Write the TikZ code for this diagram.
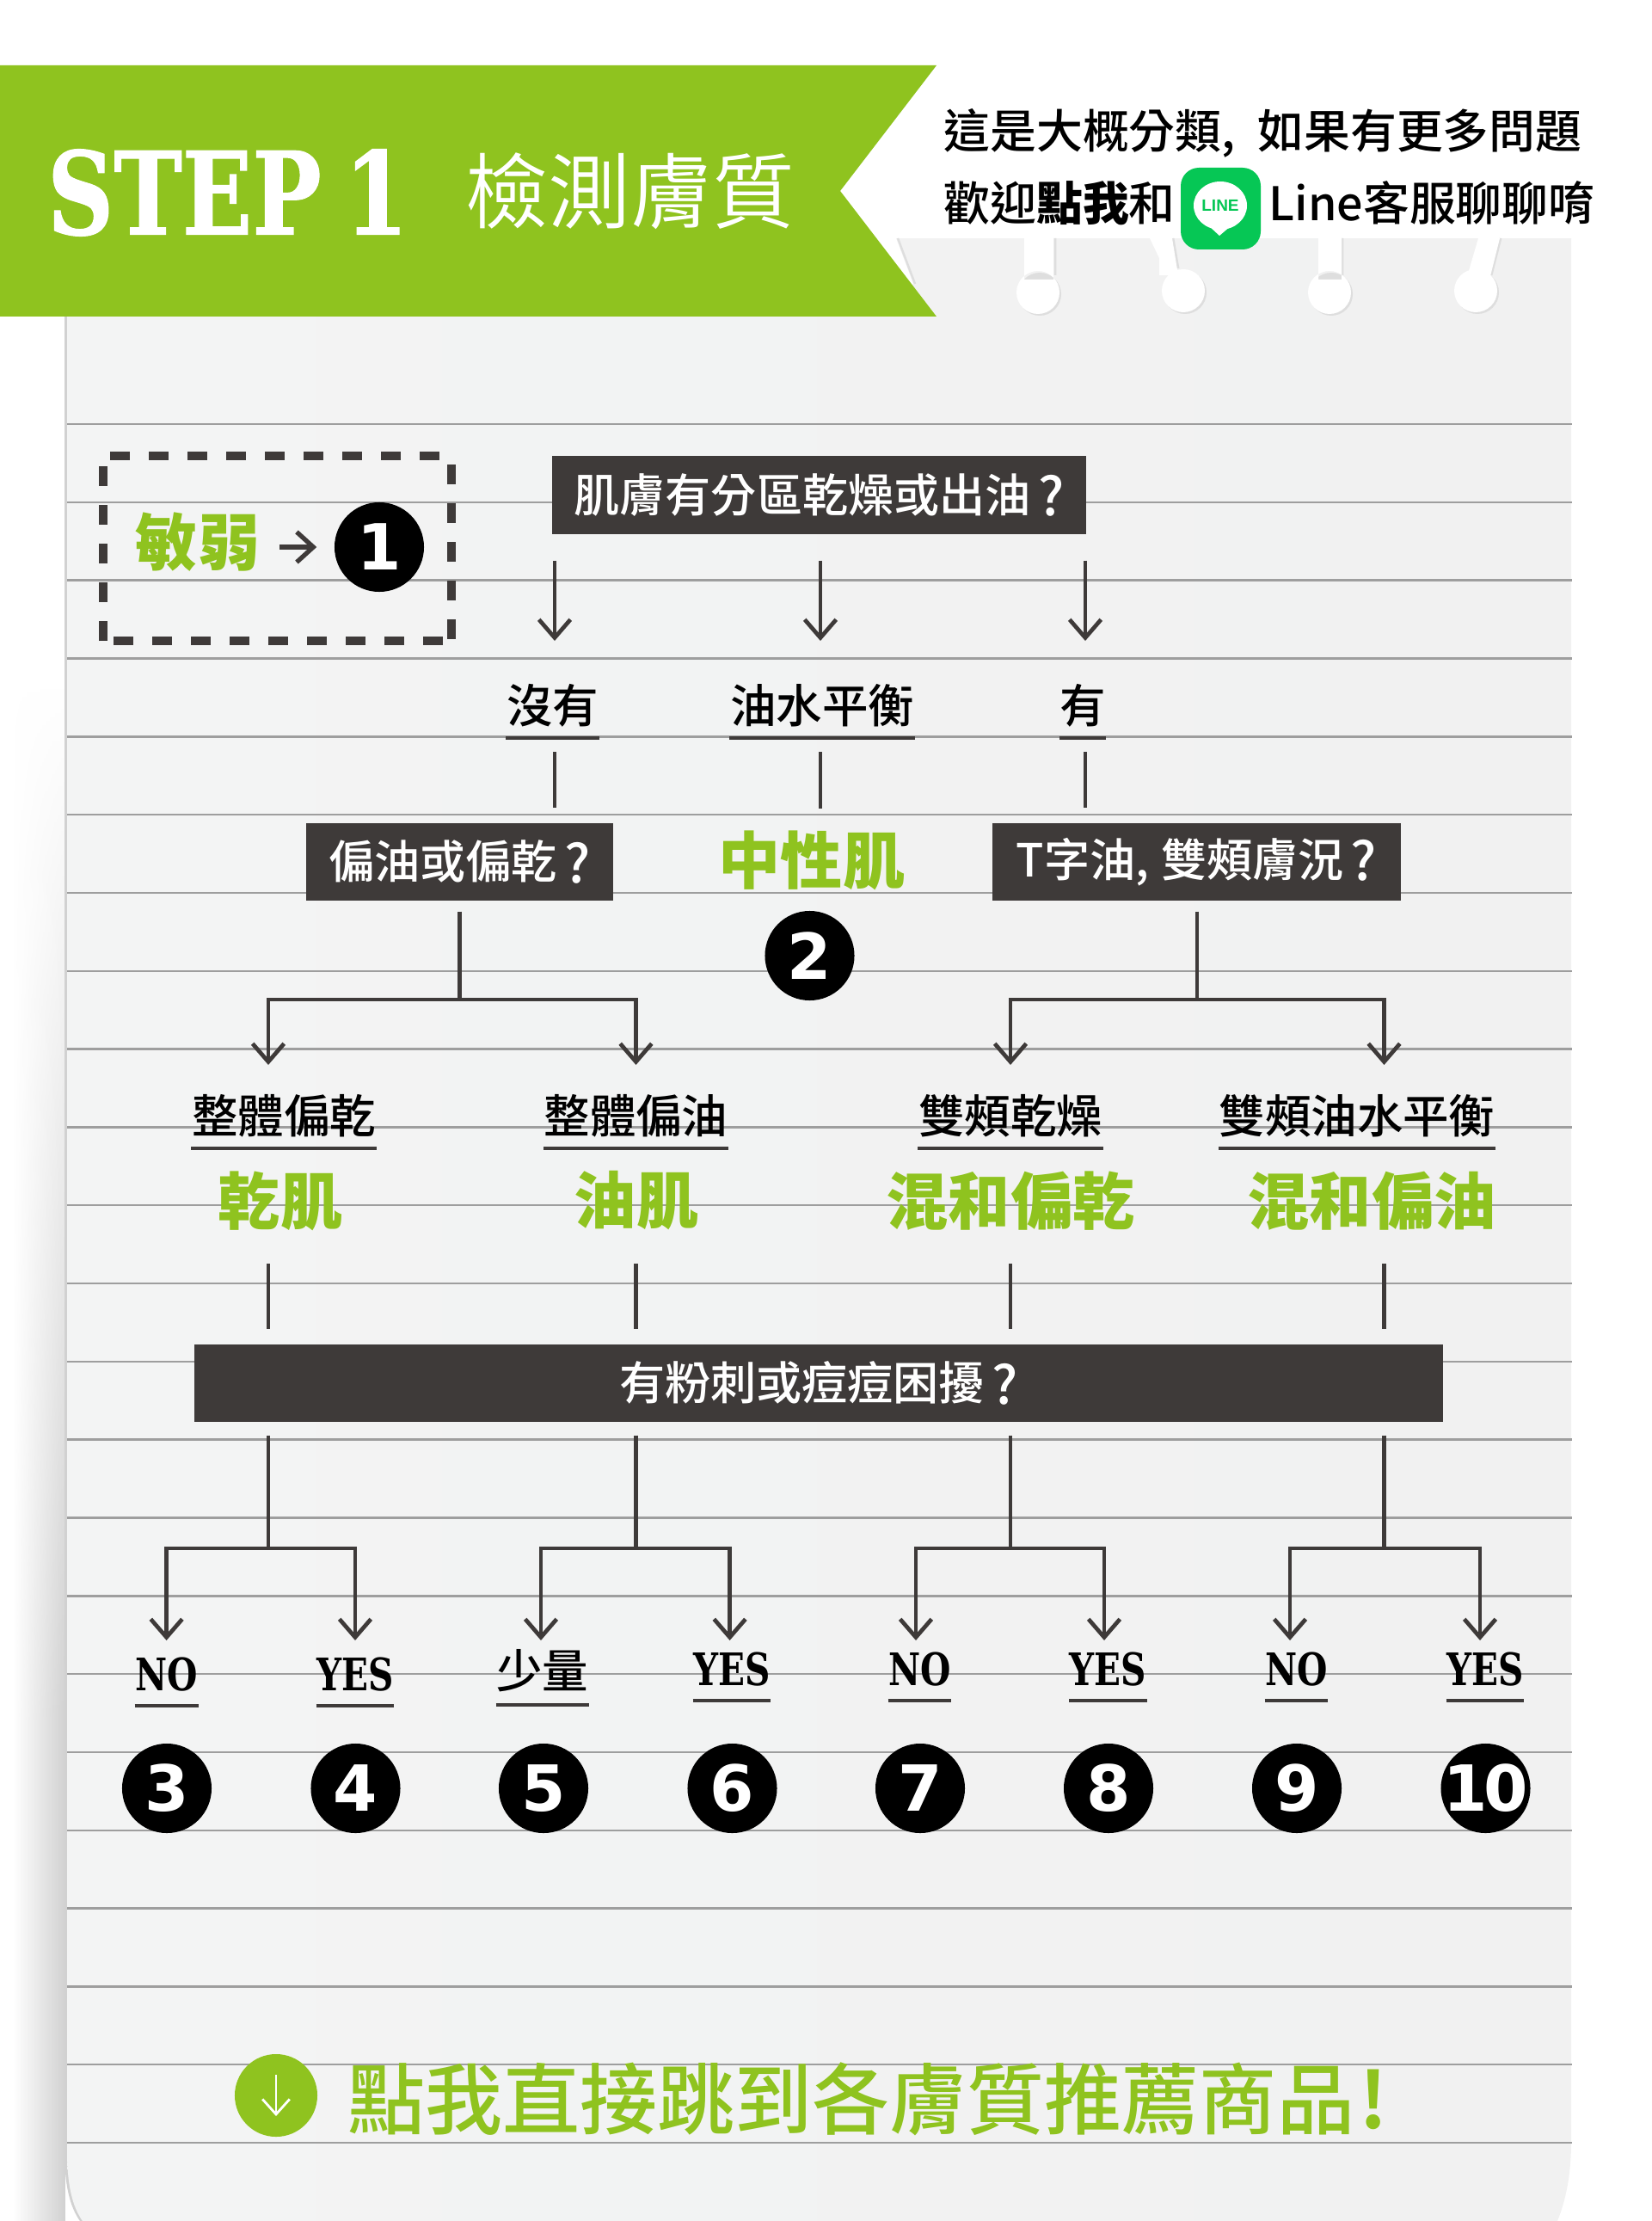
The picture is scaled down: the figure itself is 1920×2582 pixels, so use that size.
\documentclass[tikz,border=0pt]{standalone}
\usepackage{fontspec}
\usetikzlibrary{arrows.meta,fadings}
\newfontfamily\cjkmed{Noto Sans CJK TC Medium}
\newfontfamily\cjklight{Noto Sans CJK TC DemiLight}
\newfontfamily\cjkstrong{Noto Sans CJK TC Bold}
\newfontfamily\cjkbold{Noto Sans CJK TC Black}
\newfontfamily\slab[FakeStretch=0.78]{DejaVu Serif Bold}
\newfontfamily\slabstep[FakeStretch=0.8,FakeBold=0.8]{DejaVu Serif Bold}
\newfontfamily\digit{DejaVu Sans Bold}
\newfontfamily\linefont{Liberation Sans Bold}
\definecolor{leaf}{HTML}{8FC31F}
\definecolor{ink}{HTML}{3E3A39}
\definecolor{paper}{HTML}{F3F4F4}
\definecolor{paperedge}{HTML}{F1F1F1}
\definecolor{linegreen}{HTML}{06C755}
\newcommand{\qmark}{\hspace{2.4pt}\raisebox{-1.2pt}{\fontsize{17.5}{15}\selectfont ?}}
\tikzset{
  darkbox/.style={fill=ink,text=white,inner sep=0pt,font=\cjkmed\fontsize{15.1}{15}\selectfont},
  word/.style={anchor=south,inner xsep=0pt,inner ysep=2.9pt,text=black,text height=13pt,text depth=2pt,font=\cjkmed\fontsize{15.2}{15}\selectfont},
  latinword/.style={anchor=south,inner xsep=0pt,inner ysep=4.8pt,text=black,text height=10.8pt,text depth=0pt,font=\slab\fontsize{14.8}{15}\selectfont},
  skin/.style={text=leaf,inner sep=0pt,font=\cjkbold\fontsize{20.5}{20}\selectfont},
  num/.style={circle,fill=black,text=white,minimum size=1.04cm,inner sep=0pt,font=\digit\fontsize{21}{21}\selectfont},
  headline/.style={anchor=west,text=black,inner sep=0pt,font=\cjkmed\fontsize{15.3}{16}\selectfont},
  uline/.style={ink,line width=1.4pt},
  wire/.style={ink,line width=1.35pt},
  arr/.style={wire,-{Straight Barb[length=6pt,width=10.4pt,line width=1.35pt]}},
  gap/.style={shorten <=#1*0.01cm},
  stop/.style={shorten >=#1*0.01cm},
  hole/.style={fill=white}
}
\begin{document}
\begin{tikzpicture}[x=0.01cm,y=-0.01cm]
  \useasboundingbox (0,0) rectangle (1920,2582);

  \fill[black!18,path fading=west] (15,800) rectangle (76,2582);
  \fill[white,path fading=south] (0,800) rectangle (76,2000);
  \path[fill=black!18] (75,277) -- (75,2500) .. controls (75,2540) and (81,2565) .. (93,2582) -- (100,2582) -- (100,277) -- cycle;
  \path[left color=paper,right color=paperedge] (78,277) -- (78,2500) .. controls (78,2540) and (84,2565) .. (96,2582)
    -- (1811,2582) .. controls (1820,2560) and (1827,2530) .. (1827,2490) -- (1827,277) -- cycle;

  \foreach \y in {0,...,22}
    \draw[black!38,line width=0.7pt] (78,493+90.82*\y) -- (1828,493+90.82*\y);

  \fill[white] (0,0) rectangle (1920,277);
  \fill[white] (1020,277) -- (1042,277) -- (1062,330) -- (1020,368) -- cycle;
  \draw[black!13,line width=0.7pt] (1044,277) -- (1064,330);
  \fill[leaf] (0,76) -- (1089,76) -- (977,222) -- (1089,368) -- (0,368) -- cycle;

  \draw[black!13,line width=0.8pt] (1227,277) -- (1227,320) (1364,277) -- (1370,312) (1561,277) -- (1561,320) (1745,277) -- (1734,320);
  \fill[black!13] (1209,342) circle (25) (1378,340) circle (25) (1548,342) circle (25) (1718,340) circle (25);
  \fill[hole] (1191,277) rectangle (1225,325) (1207,340) circle (25);
  \fill[hole] (1337,277) -- (1363,277) -- (1370,320) -- (1348,320) -- (1348,300) -- cycle (1376,338) circle (25);
  \fill[hole] (1533,277) rectangle (1560,325) (1546,340) circle (25);
  \fill[hole] (1719,277) -- (1744,277) -- (1732,325) -- (1705,325) -- cycle (1716,338) circle (25);

  \node[text=white,inner sep=0pt,font=\slabstep\fontsize{38}{38}\selectfont] (step) at (265,224) {STEP\hspace{-3pt} 1};
  \node[text=white,inner sep=0pt,font=\cjklight\fontsize{27.2}{27}\selectfont] (title) at (733,222) {檢測膚質};
  \node[headline] (head1) at (1097,155) {這是大概分類,\hspace{4pt} 如果有更多問題};
  \node[headline] (head2) at (1097,236) {歡迎{\cjkbold 點我}和};
  \node[headline] (head3) at (1475,236) {Line客服聊聊唷};
  \fill[linegreen,rounded corners=6pt] (1373,195) rectangle (1466,290);
  \fill[white] (1419,239) ellipse (31 and 28);
  \fill[white] (1405,262) -- (1432,262) -- (1418,274) -- cycle;
  \node[text=linegreen,inner sep=0pt,font=\linefont\fontsize{5.4}{6}\selectfont] (lineicon) at (1419,239) {LINE};

  \draw[ink,line width=2.6pt,dash pattern=on 6.5pt off 6.3pt] (120,745) -- (120,535) (128,530) -- (525,530) (525,540) -- (525,745) (515,745) -- (128,745);
  \node[skin] (weak) at (230,630) {敏弱};
  \node[num] (n1) at (441,636) {1};
  \draw[ink,line width=1.5pt,-{Straight Barb[length=5.5pt,width=10pt,line width=1.5pt]}] (weak.east |- n1) ++(22,0) -- ([xshift=-0.2cm]n1.west);

  \node[darkbox,minimum width=6.21cm,minimum height=0.91cm] (q1) at (952.5,575.5) {肌膚有分區乾燥或出油\qmark};
  \coordinate (d1) at (645,745);
  \coordinate (d2) at (954,745);
  \coordinate (d3) at (1262,745);
  \foreach \d in {d1,d2,d3}
    \draw[arr,gap=30] (q1.south -| \d) -- (\d);

  \node[word] (a1) at (642.5,858) {沒有};
  \node[word] (a2) at (956,858) {油水平衡};
  \node[word] (a3) at (1259,858) {有};
  \foreach \a in {a1,a2,a3}
    \draw[uline] (\a.south west) -- (\a.south east);

  \node[darkbox,minimum width=3.57cm,minimum height=0.90cm] (q2) at (534.5,1002) {偏油或偏乾\qmark};
  \node[darkbox,minimum width=4.75cm,minimum height=0.90cm] (q3) at (1391.5,1002) {T字油,\hspace{0.5pt} 雙頰膚況\qmark};
  \node[skin] (neutral) at (944,1000) {中性肌};
  \node[num] (n2) at (941.5,1111) {2};
  \draw[wire,gap=16,stop=17] (a1.south -| d1) -- (q2.north -| d1);
  \draw[wire,gap=16,stop=25] (a2.south -| d2) -- (neutral.north -| d2);
  \draw[wire,gap=16,stop=17] (a3.south -| d3) -- (q3.north -| d3);

  \coordinate (j1) at (534.5,1162);
  \coordinate (j2) at (1392,1162);
  \coordinate (t1) at (312,1238);
  \coordinate (t2) at (739.5,1238);
  \coordinate (t3) at (1175,1238);
  \coordinate (t4) at (1609.5,1238);
  \draw[wire,gap=12] (q2.south) -- (j1);
  \draw[wire,gap=12] (q3.south -| j2) -- (j2);
  \draw[arr] (j1) -| (t1);
  \draw[arr] (j1) -| (t2);
  \draw[arr] (j2) -| (t3);
  \draw[arr] (j2) -| (t4);

  \node[word] (b1) at (330,1335) {整體偏乾};
  \node[word] (b2) at (739.5,1335) {整體偏油};
  \node[word] (b3) at (1175,1335) {雙頰乾燥};
  \node[word] (b4) at (1578,1335) {雙頰油水平衡};
  \foreach \b in {b1,b2,b3,b4}
    \draw[uline] (\b.south west) -- (\b.south east);
  \node[skin] (s1) at (326,1396) {乾肌};
  \node[skin] (s2) at (740,1396) {油肌};
  \node[skin] (s3) at (1175,1396) {混和偏乾};
  \node[skin] (s4) at (1595,1396) {混和偏油};

  \node[darkbox,minimum width=14.52cm,minimum height=0.90cm] (q4) at (952,1608) {有粉刺或痘痘困擾\qmark};
  \foreach \t/\k in {t1/1,t2/2,t3/3,t4/4} {
    \coordinate (top\k) at (\t |- 0,1469);
    \coordinate (j\k b) at (\t |- 0,1800);
    \draw[wire,stop=17] (top\k) -- (q4.north -| top\k);
    \draw[wire,gap=15] (q4.south -| top\k) -- (j\k b);
  }
  \coordinate (c1) at (193.6,1907);
  \coordinate (c2) at (413,1907);
  \coordinate (c3) at (629,1907);
  \coordinate (c4) at (848.6,1907);
  \coordinate (c5) at (1065,1907);
  \coordinate (c6) at (1284,1907);
  \coordinate (c7) at (1500,1907);
  \coordinate (c8) at (1721,1907);
  \draw[arr] (j1b) -| (c1);
  \draw[arr] (j1b) -| (c2);
  \draw[arr] (j2b) -| (c3);
  \draw[arr] (j2b) -| (c4);
  \draw[arr] (j3b) -| (c5);
  \draw[arr] (j3b) -| (c6);
  \draw[arr] (j4b) -| (c7);
  \draw[arr] (j4b) -| (c8);

  \node[latinword] (e1) at (193.6,1983) {NO};
  \node[latinword] (e2) at (413,1983) {YES};
  \node[word,inner ysep=3.4pt] (e3) at (630.7,1982) {少量};
  \node[latinword] (e4) at (851,1977) {YES};
  \node[latinword] (e5) at (1069.5,1977) {NO};
  \node[latinword] (e6) at (1288.5,1977) {YES};
  \node[latinword] (e7) at (1507.5,1977) {NO};
  \node[latinword] (e8) at (1727,1977) {YES};
  \foreach \e in {e1,e2,e3,e4,e5,e6,e7,e8}
    \draw[uline] (\e.south west) -- (\e.south east);

  \node[num] (n3) at (194,2079) {3};
  \node[num] (n4) at (413.5,2079) {4};
  \node[num] (n5) at (632,2079) {5};
  \node[num] (n6) at (851.5,2079) {6};
  \node[num] (n7) at (1070,2079) {7};
  \node[num] (n8) at (1289,2079) {8};
  \node[num] (n9) at (1508,2079) {9};
  \node[num] (n10) at (1727.5,2079) {\makebox[0pt]{\addfontfeature{LetterSpace=-6}10}};

  \node[circle,fill=leaf,minimum size=0.96cm,inner sep=0pt] (go) at (321,2436) {};
  \draw[white,line width=0.8pt,-{Straight Barb[length=5pt,width=9pt,line width=0.8pt]}] ([yshift=0.24cm]go.center) -- ([yshift=-0.24cm]go.center);
  \node[anchor=west,text=leaf,inner sep=0pt,font=\cjkmed\fontsize{25.6}{26}\selectfont] (jump) at (404,2440) {點我直接跳到各膚質推薦商品\hspace{1.5pt}{\cjkstrong !}};
\end{tikzpicture}
\end{document}
